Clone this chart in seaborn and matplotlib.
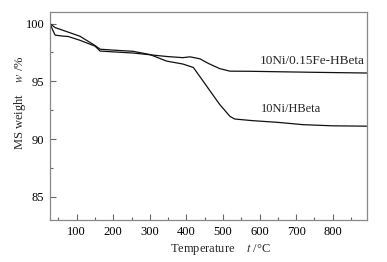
import seaborn as sns
import pandas as pd
import matplotlib
matplotlib.use('Agg')
import matplotlib.pyplot as plt
from matplotlib.ticker import MultipleLocator

# TG curves
temp_fe = [27, 35, 41, 60, 77, 109, 150, 164, 200, 254, 300, 346, 390, 410,
           437, 460, 491, 519, 573, 650, 750, 893]
weight_fe = [100.0, 99.4, 99.0, 98.92, 98.88, 98.55, 98.05, 97.62, 97.55, 97.45,
             97.3, 97.15, 97.05, 97.12, 96.95, 96.55, 96.1, 95.88, 95.87, 95.83,
             95.78, 95.72]

temp_hb = [27, 41, 73, 109, 150, 164, 200, 254, 300, 346, 390, 419, 437, 464,
           491, 519, 532, 580, 650, 719, 800, 893]
weight_hb = [100.0, 99.65, 99.3, 98.9, 98.1, 97.78, 97.7, 97.6, 97.32, 96.75,
             96.5, 96.2, 95.4, 94.2, 93.0, 91.97, 91.74, 91.6, 91.45, 91.25,
             91.15, 91.12]

label_fe = "10Ni/0.15Fe-HBeta"
label_hb = "10Ni/HBeta"

df = pd.concat([
    pd.DataFrame({"T": temp_fe, "w": weight_fe, "sample": label_fe}),
    pd.DataFrame({"T": temp_hb, "w": weight_hb, "sample": label_hb}),
])

sns.set_theme(style="ticks")
plt.rcParams['font.family'] = ['Liberation Serif', 'DejaVu Serif']
plt.rcParams['mathtext.fontset'] = 'stix'

fig = plt.figure(figsize=(3.87, 2.62), dpi=100)
ax = fig.add_axes([50 / 387, 42 / 262, 316.7 / 387, 208 / 262])

sns.lineplot(data=df, x="T", y="w", units="sample", estimator=None,
             color="#111111", lw=0.9, sort=False, ax=ax, legend=False)

ax.set_xlim(27, 893)
ax.set_ylim(83, 101)
ax.xaxis.set_major_locator(MultipleLocator(100))
ax.xaxis.set_minor_locator(MultipleLocator(50))
ax.yaxis.set_major_locator(MultipleLocator(5))
ax.yaxis.set_minor_locator(MultipleLocator(2.5))
ax.tick_params(which='both', direction='in', colors='#666666', labelcolor='black',
               labelsize=9, width=0.8, pad=4)
ax.tick_params(which='major', length=4.5)
ax.tick_params(which='minor', length=2.5)
for s in ax.spines.values():
    s.set_color('#888888')
    s.set_linewidth(0.9)

ax.set_xlabel("Temperature    $t$ /\u00b0C", fontsize=9)
ax.set_ylabel("MS weight    $w$ /%", fontsize=9)
ax.xaxis.set_label_coords(0.537, -0.108)
ax.yaxis.set_label_coords(-0.07, 0.5625)

ax.text(0.663, 0.765, label_fe, transform=ax.transAxes, ha='left', va='center',
        fontsize=9.5)
ax.text(0.666, 0.534, label_hb, transform=ax.transAxes, ha='left', va='center',
        fontsize=9)

fig.savefig("out.png", dpi=100)
